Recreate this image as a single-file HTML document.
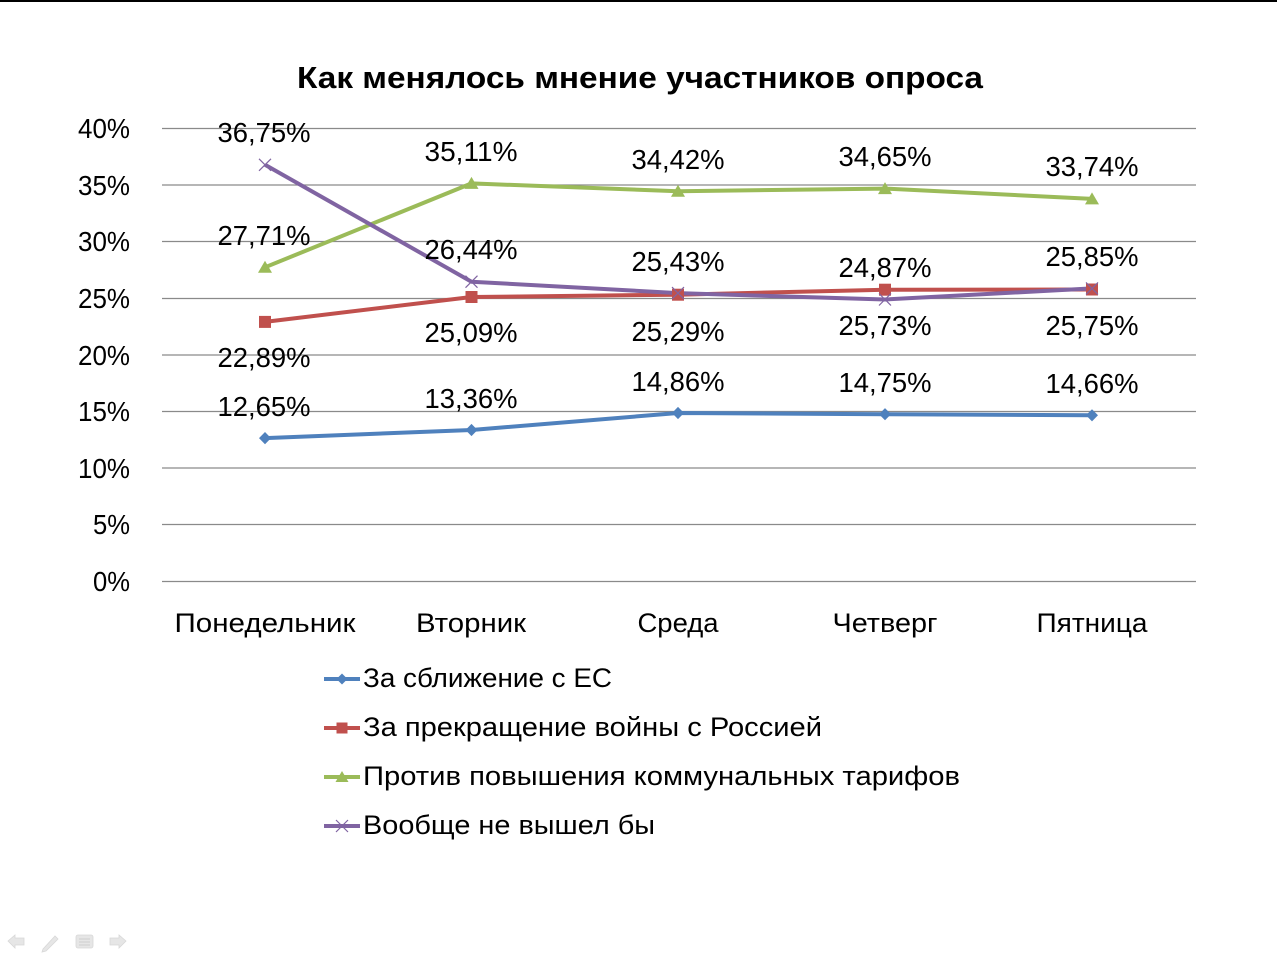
<!DOCTYPE html>
<html><head><meta charset="utf-8"><style>
html,body{margin:0;padding:0;background:#fff;}
svg{display:block;}
text{font-family:"Liberation Sans","DejaVu Sans",sans-serif;fill:#000;}
</style></head><body>
<svg width="1277" height="961" viewBox="0 0 1277 961" xmlns="http://www.w3.org/2000/svg">
<rect x="0" y="0" width="1277" height="961" fill="#fff"/>
<rect x="0" y="0" width="1277" height="2" fill="#000"/>

<text x="640" y="88" text-anchor="middle" font-size="31" font-weight="bold" textLength="686" lengthAdjust="spacingAndGlyphs">Как менялось мнение участников опроса</text>

<g stroke="#8a8a8a" stroke-width="1.3">
<line x1="162" y1="128.5" x2="1196" y2="128.5"/>
<line x1="162" y1="185" x2="1196" y2="185"/>
<line x1="162" y1="241.5" x2="1196" y2="241.5"/>
<line x1="162" y1="298.5" x2="1196" y2="298.5"/>
<line x1="162" y1="355" x2="1196" y2="355"/>
<line x1="162" y1="411.5" x2="1196" y2="411.5"/>
<line x1="162" y1="468" x2="1196" y2="468"/>
<line x1="162" y1="524.5" x2="1196" y2="524.5"/>
<line x1="162" y1="581.5" x2="1196" y2="581.5"/>
</g>

<g font-size="28" text-anchor="end">
<text x="130" y="138" textLength="52" lengthAdjust="spacingAndGlyphs">40%</text>
<text x="130" y="195" textLength="52" lengthAdjust="spacingAndGlyphs">35%</text>
<text x="130" y="251" textLength="52" lengthAdjust="spacingAndGlyphs">30%</text>
<text x="130" y="308" textLength="52" lengthAdjust="spacingAndGlyphs">25%</text>
<text x="130" y="365" textLength="52" lengthAdjust="spacingAndGlyphs">20%</text>
<text x="130" y="421" textLength="52" lengthAdjust="spacingAndGlyphs">15%</text>
<text x="130" y="478" textLength="52" lengthAdjust="spacingAndGlyphs">10%</text>
<text x="130" y="534" textLength="37" lengthAdjust="spacingAndGlyphs">5%</text>
<text x="130" y="591" textLength="37" lengthAdjust="spacingAndGlyphs">0%</text>
</g>

<g font-size="27" text-anchor="middle">
<text x="265" y="632" textLength="181" lengthAdjust="spacingAndGlyphs">Понедельник</text>
<text x="471" y="632" textLength="110" lengthAdjust="spacingAndGlyphs">Вторник</text>
<text x="678" y="632" textLength="81" lengthAdjust="spacingAndGlyphs">Среда</text>
<text x="885" y="632" textLength="105" lengthAdjust="spacingAndGlyphs">Четверг</text>
<text x="1092" y="632" textLength="111" lengthAdjust="spacingAndGlyphs">Пятница</text>
</g>

<!-- lines -->
<g fill="none" stroke-width="4" stroke-linejoin="round">
<polyline stroke="#4F81BD" points="265,438.1 471.5,430 678,413 885,414.2 1092,415.3"/>
<polyline stroke="#C0504D" points="265,321.9 471.5,297 678,294.7 885,289.7 1092,289.5"/>
<polyline stroke="#9BBB59" points="265,267.3 471.5,183.4 678,191.2 885,188.6 1092,198.9"/>
<polyline stroke="#8064A2" points="265,164.8 471.5,281.7 678,293.1 885,299.5 1092,288.4"/>
</g>

<!-- markers -->
<g fill="#4F81BD">
<polygon points="265,432 271,438.1 265,444.2 259,438.1"/>
<polygon points="471.5,423.9 477.5,430 471.5,436.1 465.5,430"/>
<polygon points="678,406.9 684,413 678,419.1 672,413"/>
<polygon points="885,408.1 891,414.2 885,420.3 879,414.2"/>
<polygon points="1092,409.2 1098,415.3 1092,421.4 1086,415.3"/>
</g>
<g fill="#C0504D">
<rect x="259" y="315.9" width="12" height="12"/>
<rect x="465.5" y="291" width="12" height="12"/>
<rect x="672" y="288.7" width="12" height="12"/>
<rect x="879" y="283.7" width="12" height="12"/>
<rect x="1086" y="283.5" width="12" height="12"/>
</g>
<g fill="#9BBB59">
<polygon points="265,260.8 272,272.8 258,272.8"/>
<polygon points="471.5,176.9 478.5,188.9 464.5,188.9"/>
<polygon points="678,184.7 685,196.7 671,196.7"/>
<polygon points="885,182.1 892,194.1 878,194.1"/>
<polygon points="1092,192.4 1099,204.4 1085,204.4"/>
</g>
<g stroke="#8064A2" stroke-width="1.2" fill="none">
<path d="M259,158.8 L271,170.8 M271,158.8 L259,170.8"/>
<path d="M465.5,275.7 L477.5,287.7 M477.5,275.7 L465.5,287.7"/>
<path d="M672,287.1 L684,299.1 M684,287.1 L672,299.1"/>
<path d="M879,293.5 L891,305.5 M891,293.5 L879,305.5"/>
<path d="M1086,282.4 L1098,294.4 M1098,282.4 L1086,294.4"/>
</g>

<!-- data labels -->
<g font-size="28" text-anchor="middle">
<text x="264" y="142" textLength="93" lengthAdjust="spacingAndGlyphs">36,75%</text>
<text x="264" y="245" textLength="93" lengthAdjust="spacingAndGlyphs">27,71%</text>
<text x="264" y="367" textLength="93" lengthAdjust="spacingAndGlyphs">22,89%</text>
<text x="264" y="416" textLength="93" lengthAdjust="spacingAndGlyphs">12,65%</text>

<text x="471" y="161" textLength="93" lengthAdjust="spacingAndGlyphs">35,11%</text>
<text x="471" y="259" textLength="93" lengthAdjust="spacingAndGlyphs">26,44%</text>
<text x="471" y="342" textLength="93" lengthAdjust="spacingAndGlyphs">25,09%</text>
<text x="471" y="408" textLength="93" lengthAdjust="spacingAndGlyphs">13,36%</text>

<text x="678" y="169" textLength="93" lengthAdjust="spacingAndGlyphs">34,42%</text>
<text x="678" y="271" textLength="93" lengthAdjust="spacingAndGlyphs">25,43%</text>
<text x="678" y="341" textLength="93" lengthAdjust="spacingAndGlyphs">25,29%</text>
<text x="678" y="391" textLength="93" lengthAdjust="spacingAndGlyphs">14,86%</text>

<text x="885" y="166" textLength="93" lengthAdjust="spacingAndGlyphs">34,65%</text>
<text x="885" y="277" textLength="93" lengthAdjust="spacingAndGlyphs">24,87%</text>
<text x="885" y="335" textLength="93" lengthAdjust="spacingAndGlyphs">25,73%</text>
<text x="885" y="392" textLength="93" lengthAdjust="spacingAndGlyphs">14,75%</text>

<text x="1092" y="176" textLength="93" lengthAdjust="spacingAndGlyphs">33,74%</text>
<text x="1092" y="266" textLength="93" lengthAdjust="spacingAndGlyphs">25,85%</text>
<text x="1092" y="335" textLength="93" lengthAdjust="spacingAndGlyphs">25,75%</text>
<text x="1092" y="393" textLength="93" lengthAdjust="spacingAndGlyphs">14,66%</text>
</g>

<!-- legend -->
<g stroke-width="4">
<line x1="324" y1="679" x2="360" y2="679" stroke="#4F81BD"/>
<line x1="324" y1="728" x2="360" y2="728" stroke="#C0504D"/>
<line x1="324" y1="777" x2="360" y2="777" stroke="#9BBB59"/>
<line x1="324" y1="826" x2="360" y2="826" stroke="#8064A2"/>
</g>
<polygon points="342,673.5 347.5,679 342,684.5 336.5,679" fill="#4F81BD"/>
<rect x="336.5" y="722.5" width="11" height="11" fill="#C0504D"/>
<polygon points="342,771 348.5,782 335.5,782" fill="#9BBB59"/>
<path d="M336,820 L348,832 M348,820 L336,832" stroke="#8064A2" stroke-width="1.2" fill="none"/>

<g font-size="27">
<text x="363" y="687" textLength="249" lengthAdjust="spacingAndGlyphs">За сближение с ЕС</text>
<text x="363" y="736" textLength="459" lengthAdjust="spacingAndGlyphs">За прекращение войны с Россией</text>
<text x="363" y="785" textLength="597" lengthAdjust="spacingAndGlyphs">Против повышения коммунальных тарифов</text>
<text x="363" y="834" textLength="292" lengthAdjust="spacingAndGlyphs">Вообще не вышел бы</text>
</g>

<!-- faint nav icons -->
<g fill="#e6e6e6" stroke="#d8d8d8" stroke-width="0.8">
<polygon points="8,941 15,935 15,938 24,938 24,945 15,945 15,948"/>
<polygon points="43,949 55,936 58,939 46,951 42,952"/>
<rect x="76" y="935" width="17" height="13" rx="2"/>
<polygon points="126,941 119,935 119,938 110,938 110,945 119,945 119,948"/>
</g>
<g stroke="#cfcfcf" stroke-width="1">
<line x1="79" y1="939" x2="90" y2="939"/>
<line x1="79" y1="942" x2="90" y2="942"/>
<line x1="79" y1="945" x2="90" y2="945"/>
</g>
</svg>
</body></html>
